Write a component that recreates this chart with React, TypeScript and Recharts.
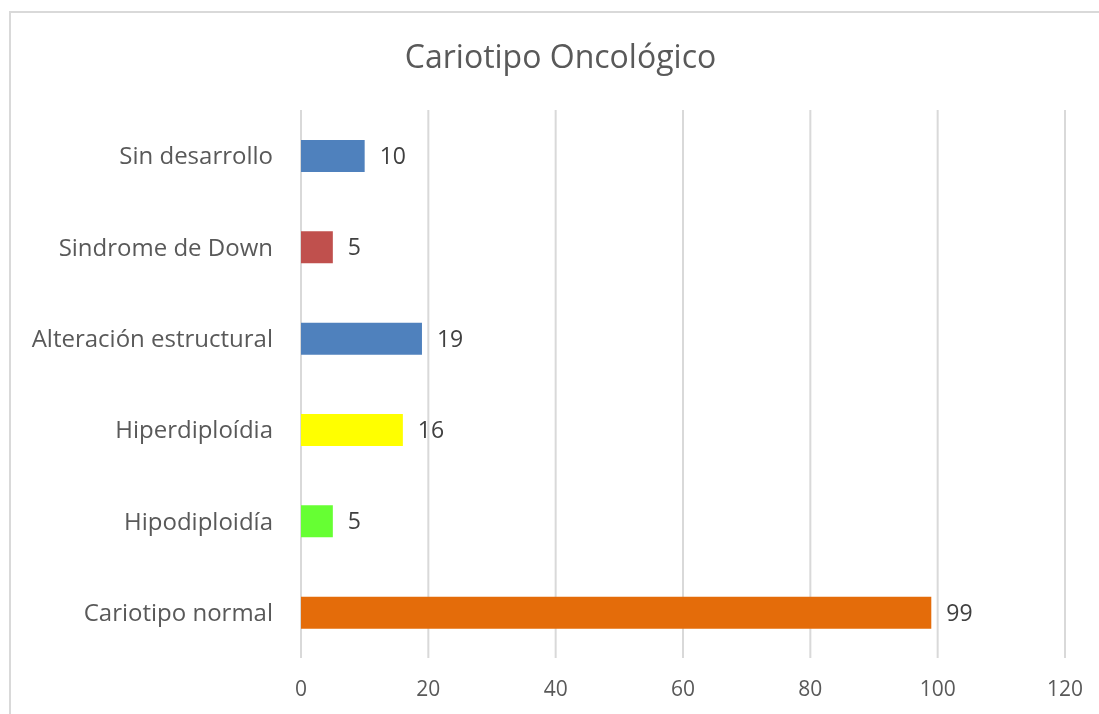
import React from "react";
import { BarChart, Bar, XAxis, YAxis, CartesianGrid, LabelList, Cell } from "recharts";

const categories = [
  "Sin desarrollo",
  "Sindrome de Down",
  "Alteración estructural",
  "Hiperdiploídia",
  "Hipodiploidía",
  "Cariotipo normal",
];
const values = [10, 5, 19, 16, 5, 99];
const colors = ["#4f81bd", "#c0504d", "#4f81bd", "#ffff00", "#66ff33", "#e46c0a"];
const xTicks = [0, 20, 40, 60, 80, 100, 120];
const title = "Cariotipo Oncológico";

const data = categories.map((name, i) => ({ name, value: values[i] }));

const FONT = "'Open Sans', sans-serif";

export default function App() {
  return (
    <div style={{ position: "relative", width: 1091, height: 698, fontFamily: FONT }}>
      <div
        style={{
          position: "fixed",
          left: 9,
          top: 11,
          right: -40,
          bottom: -40,
          borderTop: "2px solid #d9d9d9",
          borderLeft: "2px solid #d9d9d9",
        }}
      />
      <div
        style={{
          position: "absolute",
          left: 0,
          top: 26,
          width: 1105,
          textAlign: "center",
          fontSize: 32,
          color: "#595959",
          lineHeight: "44px",
        }}
      >
        {title}
      </div>
      <div style={{ position: "absolute", left: 0, top: 0 }}>
        <BarChart
          width={1091}
          height={698}
          data={data}
          layout="vertical"
          margin={{ top: 102, right: 34, bottom: 0, left: 0 }}
        >
          <CartesianGrid horizontal={false} stroke="#d9d9d9" strokeWidth={2} />
          <XAxis
            type="number"
            domain={[0, 120]}
            ticks={xTicks}
            axisLine={false}
            tickLine={false}
            tickSize={0}
            tickMargin={23}
            height={48}
            tick={{ fill: "#595959", fontSize: 21, fontFamily: FONT }}
            interval={0}
          />
          <YAxis
            type="category"
            dataKey="name"
            width={293}
            axisLine={false}
            tickLine={false}
            tickSize={0}
            tickMargin={28}
            tick={{ fill: "#595959", fontSize: 24, fontFamily: FONT }}
            interval={0}
          />
          <Bar dataKey="value" barSize={32} isAnimationActive={false}>
            {data.map((d, i) => (
              <Cell key={d.name} fill={colors[i]} />
            ))}
            <LabelList
              dataKey="value"
              position="right"
              offset={15}
              style={{ fill: "#404040", fontSize: 23, fontFamily: FONT }}
            />
          </Bar>
        </BarChart>
      </div>
    </div>
  );
}
